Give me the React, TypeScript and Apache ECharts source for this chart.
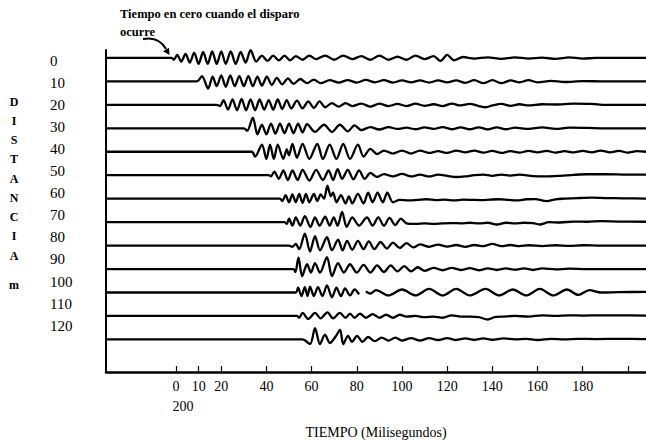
import React, { useEffect, useRef } from "react";
import * as echarts from "echarts";

// distance of each geophone (m)
const DISTANCES = [0, 10, 20, 30, 40, 50, 60, 70, 80, 90, 100, 110, 120];
// time axis (ms)
const TIME_TICKS = [0, 10, 20, 40, 60, 80, 100, 120, 140, 160, 180, 200];
const TIME_LABELS = [0, 10, 20, 40, 60, 80, 100, 120, 140, 160, 180];

// each trace: [time ms, deflection px (up positive)]
const W0 = [[-31,0],[-2,0],[-1,-1.5],[0.5,2.5],[2.3,-3],[4.2,3.5],[6.1,-4],[8,4.5],[10,-5],[12,5],[14,-5],[16,5.5],[18,-5],[20,5.5],[22,-5],[24.2,5.5],[26.4,-5],[28.6,5],[30.8,-4],[33,6.5],[35.5,-3],[38,2],[40.5,-2.5],[43,2],[45.5,-2],[48,2],[50.5,-2],[53,1.5],[56,-1.5],[59,2],[62,-1],[66,2],[70,-1.5],[74,2],[78,-1],[82,1.5],[86,-1.5],[90,2],[94,-1.5],[98,1],[102,-1.5],[106,2],[110,-1],[114,1.5],[117,-2.5],[120,2.5],[123,-2],[127,0.8],[132,-0.5],[138,0.5],[144,-0.8],[150,0.5],[156,-0.5],[162,0.3],[168,-0.8],[174,0.5],[180,-0.5],[186,0],[208,0]];
const W10 = [[-31,0],[9,0],[10,1],[11.5,4.5],[14.2,-6],[16.2,4],[18,-4],[20,5],[22,-4.5],[24,5],[26,-4],[28,4.5],[30,-4],[32,4.5],[34,-4],[36,4],[38,-3.5],[40.2,4],[42.4,-3],[44.6,3],[47,-2.5],[49.5,2.5],[52,-2],[55,2],[58,-1.5],[61,1.5],[64,-1.5],[68,1],[72,-1],[76,1],[80,-1],[84,1.2],[88,-0.8],[92,1],[96,-1],[100,0.8],[104,-0.8],[108,0.8],[112,-1],[116,0.8],[120,-0.8],[124,0.8],[128,-1.2],[132,1],[136,-1.5],[140,1],[144,-1.5],[148,0.8],[152,-0.8],[156,1],[160,-0.8],[166,0.5],[172,-0.5],[180,0.3],[190,0],[208,0]];
const W20 = [[-31,0],[18,0],[19.5,-1],[21,4],[23,-4],[25,4.5],[27,-4.5],[29,5],[31,-4.5],[33,4.5],[35,-4.5],[37,4.5],[39,-4],[41,4],[43,-4],[45,4.5],[47,-3.5],[49,4],[51,-3],[53.5,3.5],[56,-3],[58.5,3],[61,-2.5],[63.5,3],[66,-2],[69,1.5],[72,-1.5],[75,1.5],[78,-1],[82,1],[86,-1.5],[90,1],[94,-1],[98,0.8],[102,-1],[106,1],[110,-0.8],[114,0.5],[118,-1],[122,1],[126,-0.5],[130,0.8],[134,-1],[137,-2],[140,-0.5],[144,0.8],[148,-0.8],[152,0.5],[156,-0.5],[162,0.5],[168,0.3],[176,1],[184,0.8],[190,0],[208,0]];
const W30 = [[-31,0],[30,0],[31.5,-2],[34,9],[36,-5],[38,3],[40,-5],[42,4],[44,-4.5],[46,4],[48,-4],[50,4],[52,-4],[54,4],[56,-3.5],[58,3.5],[61.5,-3],[65.5,3],[69,-3],[72.5,3],[76,-2.5],[79,2.5],[82,-1.5],[86,1],[90,-1],[94,1],[98,-0.5],[102,0.5],[106,-0.8],[110,0.8],[114,-0.5],[118,1],[122,-0.8],[126,0.8],[130,-0.8],[134,0.8],[138,-1],[142,0.8],[146,-0.8],[150,0.5],[156,-0.5],[162,0.8],[168,-0.5],[174,0.5],[182,0.3],[190,0],[208,0]];
const W40 = [[-31,0],[33.5,0],[35,-4],[38,6],[40,-6],[41.6,6],[43.3,-6],[45,6],[47.5,-6],[49,2],[50,-3],[51.5,6.5],[53.5,-5],[56,6.5],[59,-6],[62.5,6.5],[65,-6],[68,6],[71,-6],[74,6.5],[77,-6],[80.5,6],[83,-4],[86,2.5],[89,-2],[92,1],[96,-1.5],[100,1],[104,-1.5],[108,1],[112,-1],[116,0.5],[120,-1],[124,1],[128,-0.5],[132,1],[136,-0.8],[140,0.8],[144,-1],[148,0.5],[152,-0.8],[156,0.8],[160,-0.5],[164,0.8],[168,-0.8],[172,0.5],[176,-0.5],[180,0.8],[184,-0.5],[188,1],[192,-0.5],[196,0.8],[200,-0.8],[204,0.5],[208,0]];
const W50 = [[-31,0],[41,0],[42,-1],[43.5,3],[45.5,-3],[47.5,4],[49.5,-4],[51.5,4],[53.8,-4],[56,4.5],[59,-4.5],[62,4.5],[65,-4],[67.5,4],[69.5,-4],[71.5,5],[73.5,-3],[76,4.5],[78.5,-3.5],[81,4],[83.5,-3],[86,2],[89,-1.5],[92,1],[96,-1],[100,1.2],[104,-1],[108,0.5],[112,-1],[116,0.5],[120,-0.5],[124,-1.5],[128,-1],[132,0],[136,0.5],[140,-0.5],[144,0.5],[148,-0.3],[152,0.5],[158,-0.8],[164,-1],[170,-0.5],[176,0.3],[182,0.8],[190,0.8],[200,0.5],[208,0.5]];
const W60 = [[-31,0],[46,0],[47,-2],[48.5,3],[50,-3],[51.5,3.5],[53,-3],[54.5,4],[56,-3.5],[57.5,4],[59,-3],[61,4],[62.5,-2],[64,3.5],[65.5,0],[67,11],[68.5,2],[69.5,5],[71,-3],[73,3],[75,-4],[76.5,2],[78,-4],[80.5,4],[83,-4],[85,5],[87,-3],[89.2,5],[91.5,-3],[93.5,5],[96,-3],[99,-1],[103,-1.5],[107,-1],[111,-0.5],[115,-1.2],[119,-0.8],[123,-1.5],[127,-0.8],[131,-1],[135,-1.2],[139,-0.8],[143,-0.5],[147,-1],[151,-1.5],[155,-0.5],[159,-0.3],[164,-2],[168,-0.5],[172,0],[178,0.5],[184,0.8],[190,0.5],[198,0.3],[208,0]];
const W70 = [[-31,0],[48,0],[49,-1.5],[50,3],[51.5,-3],[53,4],[55,-3],[57,5],[59.5,-4],[61.5,4],[63.5,-3],[66,4.5],[68,-3],[69.8,4],[71.5,-3],[73.5,8.5],[75.5,-4],[78,4],[81,-3],[84.5,4],[87,-3],[89.5,4],[92,-3],[94.5,3.5],[97,-2.5],[99.5,3],[102,-1],[106,-1.5],[110,-1],[114,-1.5],[118,-1],[122,-0.8],[126,-1],[130,-0.5],[134,-1],[138,-0.5],[142,-2],[146,-0.5],[150,-1],[154,-0.5],[158,-0.8],[161,-2],[165,0],[170,-0.3],[176,0.5],[182,0.3],[188,0.8],[196,0.5],[208,0.3]];
const W80 = [[-31,0],[50,0],[51.5,-1],[53,1.5],[54.5,-3],[57,10],[59.3,-5],[61.5,8],[63.7,-4],[66.8,7],[69,-4],[71.7,5],[73.7,-4],[75.7,4],[78,-3.5],[80.5,4],[83,-3],[85.3,3.5],[87.8,-3],[90.5,3],[93.3,-2.5],[96,2.5],[99,-2],[102,2],[105,-1.5],[108,1],[112,-1],[116,0.8],[120,-0.8],[124,0.5],[128,-1],[132,0.5],[136,-0.5],[140,1.5],[144,-0.5],[148,0.5],[152,-0.5],[156,0.3],[162,-0.5],[168,0.3],[174,-0.3],[180,0.3],[188,0],[208,0]];
const W90 = [[-31,0],[52,0],[52.8,-2.5],[54.2,9.5],[55.8,-6],[58,4],[59.7,-3],[61.5,5],[63.7,-3],[66.8,10],[69,-6],[71.7,5],[74.3,-3],[77,4],[80,-3],[83,3.5],[86,-3],[89,3],[92,-2.5],[95,3],[98,-2],[101,2.5],[104,-2],[107,1.5],[110,-1.5],[114,1],[118,-1],[122,1],[126,-0.8],[130,0.8],[134,-1],[138,0.5],[142,-0.8],[146,0.5],[150,-0.5],[154,0.5],[158,-0.8],[162,0.5],[168,-0.3],[174,0.3],[182,0],[208,0]];
const W100 = [[-31,0],[53,0],[54,4],[55.5,-3],[57,4.5],[58.2,-3],[59.3,5],[61,-3],[62.8,4.5],[64.8,-3],[66.8,6],[69,-4],[71,4],[73,-3],[74.8,3.5],[77,-2.5],[79,2.5],[81,-1.5],[82.5,null],[84,1],[86,-1],[88.5,2],[94,-2.5],[100,2.5],[106,-2.5],[112,3],[118,-2.5],[124,3],[130,-2.5],[137,3],[143,-2.5],[149,2.5],[155,-2.5],[161,3],[167,-2.5],[173,2.5],[178,-2],[183,2],[188,0],[196,0.3],[208,0.5]];
const W110 = [[-31,0],[53.5,0],[54.5,-1.5],[56,2.5],[58.5,-2.5],[61.5,2.5],[64,-2],[67,3],[69.5,-2],[72.5,2.5],[75,-1.5],[77,2],[79,-1.5],[81.4,2],[84,-1.5],[87,1.5],[90,-1.5],[93,1],[96,-1.5],[99,1],[102,-0.5],[106,0],[110,-1],[114,-0.5],[118,-1.5],[122,0.5],[126,-0.5],[130,-0.5],[134,-1],[138,-3],[141,-1],[145,-0.5],[150,0],[156,-0.5],[162,0.5],[168,0],[174,0.5],[180,0.3],[188,0.5],[196,0.5],[208,0.3]];
const W120 = [[-31,0],[56,0],[59.3,-4],[61.5,9.5],[63.7,-4],[65.9,4],[68.1,-3],[70.5,2],[72.6,8],[74,-4],[76.1,3],[77.9,-2],[80.1,3],[82.5,-2],[85,2],[88,-1.5],[91,1.5],[94,-1],[97,1.5],[100,-1],[104,1],[108,-1],[112,1],[116,-0.5],[120,1],[124,-0.5],[128,0.8],[132,-0.5],[136,0.8],[140,-0.3],[145,0.8],[150,0],[155,0.5],[160,-0.5],[166,0.5],[172,0],[178,0.5],[186,0.3],[196,0.5],[208,0.3]];

const TRACES = [W0, W10, W20, W30, W40, W50, W60, W70, W80, W90, W100, W110, W120];

const SERIF = "'Liberation Serif', 'Times New Roman', serif";
const PX_PER_M = 2.36; // vertical scale of the trace axis (px per metre)
const GAIN = 1.2; // display gain of the traces

export default function App() {
  const ref = useRef<HTMLDivElement>(null);

  useEffect(() => {
    if (!ref.current) return;
    const chart = echarts.init(ref.current, undefined, { renderer: "svg" });

    const series = TRACES.map((trace, i) => ({
      type: "line",
      xAxisIndex: 0,
      yAxisIndex: 0,
      showSymbol: false,
      symbol: "none",
      smooth: 0.3,
      connectNulls: false,
      silent: true,
      lineStyle: { color: "#000", width: 2.3 },
      data: trace.map((p) => [
        p[0],
        p[1] === null ? "-" : DISTANCES[i] - ((p[1] as number) * GAIN) / PX_PER_M,
      ]),
    }));

    chart.setOption({
      animation: false,
      backgroundColor: "#fff",
      grid: { left: 106, right: 0, top: 50, bottom: 70, containLabel: false },
      xAxis: {
        type: "value",
        min: -31,
        max: 208,
        name: "TIEMPO (Milisegundos)",
        nameLocation: "middle",
        nameGap: 53,
        nameTextStyle: { color: "#000", fontFamily: SERIF, fontSize: 14 },
        axisLine: { show: true, onZero: false, lineStyle: { color: "#000", width: 2.5 } },
        axisTick: {
          show: true,
          inside: true,
          length: 6,
          customValues: TIME_TICKS,
          lineStyle: { color: "#000", width: 1.2 },
        },
        axisLabel: {
          show: true,
          customValues: TIME_LABELS,
          color: "#000",
          fontFamily: SERIF,
          fontSize: 14,
          margin: 7,
        },
        splitLine: { show: false },
      },
      yAxis: [
        {
          type: "value",
          inverse: true,
          min: -3.39,
          max: 133.9,
          axisLine: { show: true, onZero: false, lineStyle: { color: "#000", width: 2 } },
          axisTick: { show: false },
          axisLabel: { show: false },
          splitLine: { show: false },
        },
        {
          type: "value",
          inverse: true,
          position: "left",
          min: -4.95,
          max: 141,
          axisLine: { show: false },
          axisTick: { show: false },
          axisLabel: {
            show: true,
            customValues: DISTANCES,
            align: "left",
            margin: 56,
            color: "#000",
            fontFamily: SERIF,
            fontSize: 15,
          },
          splitLine: { show: false },
        },
      ],
      graphic: [
        {
          type: "text",
          x: 183,
          y: 406,
          style: { text: "200", fill: "#000", fontFamily: SERIF, fontSize: 14, align: "center", verticalAlign: "middle" },
        },
        {
          type: "text",
          x: 120,
          y: 14,
          style: { text: "Tiempo en cero cuando el disparo", fill: "#000", fontFamily: SERIF, fontSize: 12.5, fontWeight: "bold", align: "left", verticalAlign: "middle" },
        },
        {
          type: "text",
          x: 120,
          y: 32,
          style: { text: "ocurre", fill: "#000", fontFamily: SERIF, fontSize: 12.5, fontWeight: "bold", align: "left", verticalAlign: "middle" },
        },
        {
          type: "bezierCurve",
          shape: { x1: 143, y1: 39, cpx1: 153, cpy1: 37, cpx2: 161, cpy2: 40, x2: 166, y2: 49 },
          style: { stroke: "#000", lineWidth: 2, fill: null },
        },
        {
          type: "polygon",
          shape: { points: [[169.5, 55], [169, 47.8], [163, 51.2]] },
          style: { fill: "#000" },
        },
        {
          type: "text",
          x: 14,
          y: 92,
          style: {
            text: "D\nI\nS\nT\nA\nN\nC\nI\nA",
            fill: "#000",
            fontFamily: SERIF,
            fontSize: 12,
            fontWeight: "bold",
            lineHeight: 19.25,
            align: "center",
            verticalAlign: "top",
          },
        },
        {
          type: "text",
          x: 14,
          y: 285,
          style: { text: "m", fill: "#000", fontFamily: SERIF, fontSize: 12, fontWeight: "bold", align: "center", verticalAlign: "middle" },
        },
      ],
      series,
    });

    return () => chart.dispose();
  }, []);

  return (
    <div
      ref={ref}
      style={{ position: "fixed", left: 0, top: 0, width: 646, height: 444, background: "#fff" }}
    />
  );
}
